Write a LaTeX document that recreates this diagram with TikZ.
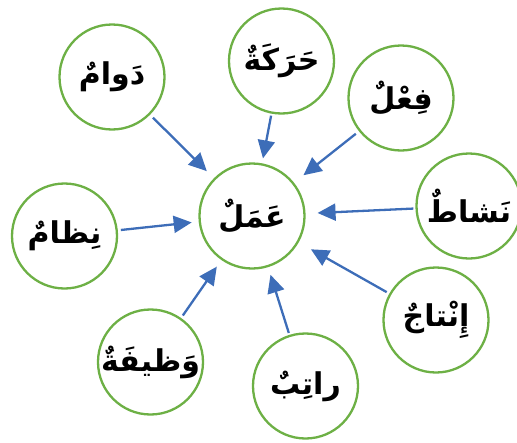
\documentclass[tikz,border=0pt]{standalone}
\usepackage{fontspec}
\newfontfamily\arabicfont[Script=Arabic]{DejaVu Sans}
\TeXXeTstate=1
\usetikzlibrary{arrows.meta}
\definecolor{ringgreen}{HTML}{6DB045}
\definecolor{arrowblue}{HTML}{3D6DB8}
\tikzset{
  word/.style={circle, draw=ringgreen, line width=2.3pt, minimum size=105pt, inner sep=0pt,
    font=\fontsize{30}{36}\selectfont\arabicfont\bfseries},
  link/.style={draw=arrowblue, line width=2.3pt, -{Triangle[length=18pt,width=17pt]}}
}
\newcommand{\ar}[1]{\beginR #1\endR}
\begin{document}
\begin{tikzpicture}[x=1pt,y=-1pt]
\useasboundingbox (0,0) rectangle (517,442);
\node[word] (amal) at (252,216) {\ar{عَمَلٌ}};
\node[word] (dawam) at (112,77) {\ar{دَوامٌ}};
\node[word] (haraka) at (281.5,61) {\ar{حَرَكَةٌ}};
\node[word] (fil) at (401,98) {\ar{فِعْلٌ}};
\node[word] (nashat) at (469,206) {\ar{نَشاطٌ}};
\node[word] (intaj) at (436,320) {\ar{إِنْتاجٌ}};
\node[word] (ratib) at (305.5,386) {\ar{راتِبٌ}};
\node[word] (wazifa) at (150.5,362) {\ar{وَظيفَةٌ}};
\node[word] (nizam) at (64.5,236) {\ar{نِظامٌ}};
\draw[link, shorten <=4pt, shorten >=10pt] (dawam) -- (amal);
\draw[link, shorten <=2pt, shorten >=5pt] (haraka) -- (amal);
\draw[link, shorten <=4pt, shorten >=12pt] (fil) -- (amal);
\draw[link, shorten <=2pt, shorten >=12pt] (nashat) -- (amal);
\draw[link, shorten <=3pt, shorten >=14pt] (intaj) -- (amal);
\draw[link, shorten <=2pt, shorten >=8pt] (ratib) -- (amal);
\draw[link, shorten <=3pt, shorten >=8pt] (wazifa) -- (amal);
\draw[link, shorten <=3pt, shorten >=7pt] (nizam) -- (amal);
\end{tikzpicture}
\end{document}
